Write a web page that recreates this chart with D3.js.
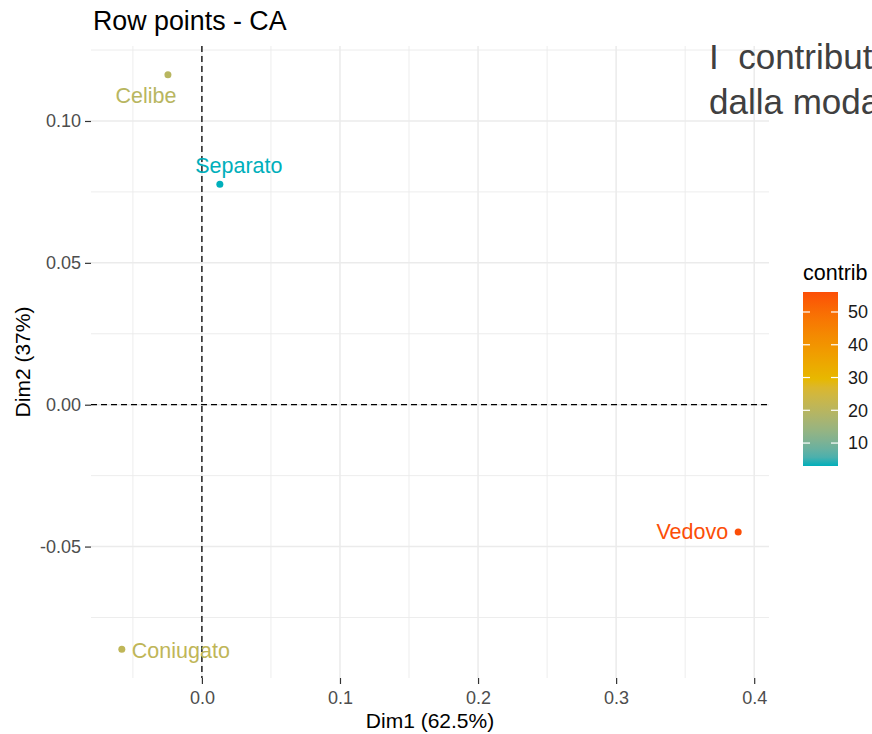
<!DOCTYPE html>
<html>
<head>
<meta charset="utf-8">
<script src="https://cdn.jsdelivr.net/npm/d3@7"></script>
<style>
  html, body { margin: 0; padding: 0; background: #fff; overflow: hidden; }
  svg { display: block; font-family: "Liberation Sans", Arial, sans-serif; }
</style>
</head>
<body>
<svg id="chart" width="872" height="734"></svg>
<script>
// Row coordinates of the correspondence analysis (marital status)
const categories = ["Celibe", "Coniugato", "Separato", "Vedovo"];
const dim1 = [-0.0246, -0.0580, 0.0130, 0.3884];
const dim2 = [0.1163, -0.0862, 0.0777, -0.0449];
// contribution (%) of each row to the first two dimensions
const contrib = [19.8, 21.1, 3.0, 56.1];

const xTicks = [0.0, 0.1, 0.2, 0.3, 0.4];
const yTicks = [-0.05, 0.00, 0.05, 0.10];
const xMinor = [-0.05, 0.05, 0.15, 0.25, 0.35];
const yMinor = [-0.075, -0.025, 0.025, 0.075, 0.125];
const legendTicks = [10, 20, 30, 40, 50];
const gradientCols = ["#00AFBB", "#E7B800", "#FC4E07"];

// label placement relative to each point: [dx, dy, text-anchor]
const labelNudge = [
  [-22, 28, "middle"],
  [10, 9, "start"],
  [19, -11, "middle"],
  [-10, 7, "end"]
];

const svg = d3.select("#chart");
svg.append("rect").attr("width", 872).attr("height", 734).attr("fill", "#fff");

const panel = { left: 91, right: 769, top: 46, bottom: 678 };

function expand(ext, f) {
  const d = (ext[1] - ext[0]) * f;
  return [ext[0] - d, ext[1] + d];
}

const x = d3.scaleLinear().domain(expand(d3.extent(dim1), 0.05)).range([panel.left, panel.right]);
const y = d3.scaleLinear().domain(expand(d3.extent(dim2), 0.05)).range([panel.bottom, panel.top]);

const colorInterp = d3.piecewise(d3.interpolateLab, gradientCols);
const cExt = d3.extent(contrib);
const color = v => colorInterp((v - cExt[0]) / (cExt[1] - cExt[0]));

// grid
const grid = svg.append("g");
grid.selectAll(".vmin").data(xMinor).join("line")
  .attr("x1", d => x(d)).attr("x2", d => x(d))
  .attr("y1", panel.top).attr("y2", panel.bottom)
  .attr("stroke", "#EBEBEB").attr("stroke-width", 0.9);
grid.selectAll(".hmin").data(yMinor).join("line")
  .attr("y1", d => y(d)).attr("y2", d => y(d))
  .attr("x1", panel.left).attr("x2", panel.right)
  .attr("stroke", "#EBEBEB").attr("stroke-width", 0.9);
grid.selectAll(".vmaj").data(xTicks).join("line")
  .attr("x1", d => x(d)).attr("x2", d => x(d))
  .attr("y1", panel.top).attr("y2", panel.bottom)
  .attr("stroke", "#EBEBEB").attr("stroke-width", 1.5);
grid.selectAll(".hmaj").data(yTicks).join("line")
  .attr("y1", d => y(d)).attr("y2", d => y(d))
  .attr("x1", panel.left).attr("x2", panel.right)
  .attr("stroke", "#EBEBEB").attr("stroke-width", 1.5);

// axes
const yAxis = d3.axisLeft(y).tickValues(yTicks).tickFormat(d => d.toFixed(2))
  .tickSize(6).tickPadding(4);
const gy = svg.append("g").attr("transform", `translate(${panel.left},0)`).call(yAxis);
const xAxis = d3.axisBottom(x).tickValues(xTicks).tickFormat(d => d.toFixed(1))
  .tickSize(6).tickPadding(7);
const gx = svg.append("g").attr("transform", `translate(0,${panel.bottom})`).call(xAxis);
[gx, gy].forEach(g => {
  g.select(".domain").remove();
  g.selectAll(".tick line").attr("stroke", "#333").attr("stroke-width", 1.2);
  g.selectAll(".tick text").attr("fill", "#4D4D4D").style("font-size", "18px")
    .style("font-family", "'Liberation Sans', Arial, sans-serif");
});

// reference lines at the origin
svg.append("line")
  .attr("x1", x(0)).attr("x2", x(0)).attr("y1", panel.top).attr("y2", panel.bottom)
  .attr("stroke", "#000").attr("stroke-width", 1.3).attr("stroke-dasharray", "6,4");
svg.append("line")
  .attr("y1", y(0)).attr("y2", y(0)).attr("x1", panel.left).attr("x2", panel.right)
  .attr("stroke", "#000").attr("stroke-width", 1.3).attr("stroke-dasharray", "6,4");

// points and labels
const rows = categories.map((c, i) => ({ name: c, x: dim1[i], y: dim2[i], v: contrib[i], n: labelNudge[i] }));
svg.append("g").selectAll("circle").data(rows).join("circle")
  .attr("cx", d => x(d.x)).attr("cy", d => y(d.y)).attr("r", 3.5)
  .attr("fill", d => color(d.v));
svg.append("g").selectAll("text").data(rows).join("text")
  .attr("x", d => x(d.x) + d.n[0]).attr("y", d => y(d.y) + d.n[1])
  .attr("text-anchor", d => d.n[2])
  .attr("fill", d => color(d.v))
  .style("font-size", "21.5px")
  .text(d => d.name);

// titles
svg.append("text").attr("x", 93).attr("y", 30)
  .style("font-size", "26.8px").attr("fill", "#000").text("Row points - CA");
svg.append("text").attr("x", (panel.left + panel.right) / 2).attr("y", 728)
  .attr("text-anchor", "middle").style("font-size", "21px").attr("fill", "#000")
  .text("Dim1 (62.5%)");
svg.append("text")
  .attr("transform", `translate(30,${(panel.top + panel.bottom) / 2}) rotate(-90)`)
  .attr("text-anchor", "middle").style("font-size", "21px").attr("fill", "#000")
  .text("Dim2 (37%)");

// colour legend
const lg = { x: 803, w: 35, top: 292, bottom: 466 };
const defs = svg.append("defs");
const grad = defs.append("linearGradient").attr("id", "contribGrad")
  .attr("x1", 0).attr("y1", 1).attr("x2", 0).attr("y2", 0);
d3.range(0, 1.0001, 0.05).forEach(t => {
  grad.append("stop").attr("offset", t).attr("stop-color", colorInterp(t));
});
svg.append("text").attr("x", lg.x).attr("y", 280)
  .style("font-size", "21.5px").attr("fill", "#000").text("contrib");
svg.append("rect").attr("x", lg.x).attr("y", lg.top).attr("width", lg.w)
  .attr("height", lg.bottom - lg.top).attr("fill", "url(#contribGrad)");
const ly = d3.scaleLinear().domain(cExt).range([lg.bottom, lg.top]);
const lt = svg.append("g").selectAll("g").data(legendTicks).join("g");
lt.append("line").attr("x1", lg.x).attr("x2", lg.x + 7)
  .attr("y1", d => ly(d)).attr("y2", d => ly(d)).attr("stroke", "#fff").attr("stroke-width", 1.2);
lt.append("line").attr("x1", lg.x + lg.w - 7).attr("x2", lg.x + lg.w)
  .attr("y1", d => ly(d)).attr("y2", d => ly(d)).attr("stroke", "#fff").attr("stroke-width", 1.2);
lt.append("text").attr("x", lg.x + lg.w + 10).attr("y", d => ly(d))
  .attr("dy", "0.35em").style("font-size", "18px").attr("fill", "#1a1a1a")
  .text(d => d);

// slide caption overlapping the top right corner
const cap = svg.append("text").style("font-size", "35px").attr("fill", "#404040")
  .attr("xml:space", "preserve").style("white-space", "pre");
cap.append("tspan").attr("x", 709).attr("y", 69).text("I  contributi maggiori");
cap.append("tspan").attr("x", 709).attr("y", 114).text("dalla modalità Vedovo");
</script>
</body>
</html>
